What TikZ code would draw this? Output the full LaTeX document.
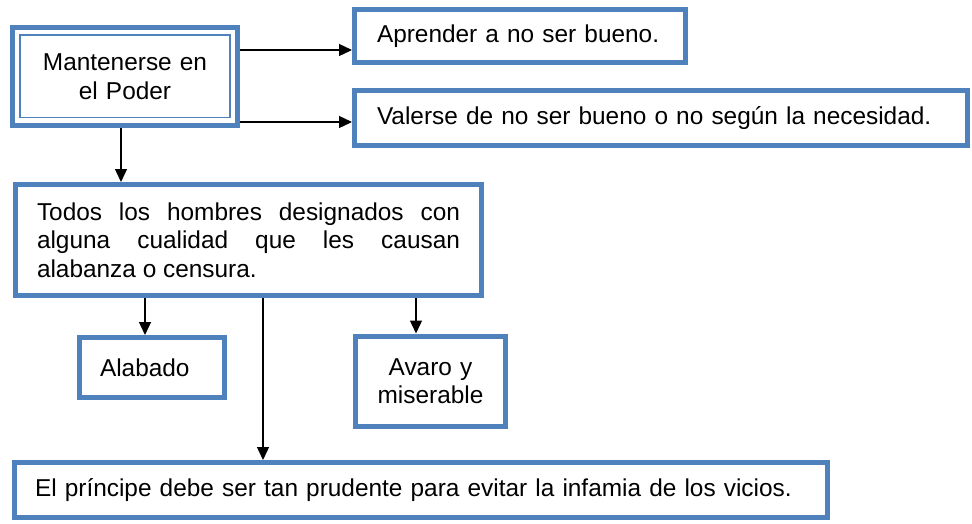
\documentclass[tikz,border=0pt]{standalone}
\usepackage{fontspec}
\setmainfont{Liberation Sans}
\usetikzlibrary{arrows.meta}
\definecolor{boxblue}{RGB}{79,129,189}
\begin{document}
\begin{tikzpicture}[x=1pt,y=-1pt,
  box/.style={draw=boxblue, line width=5pt, rectangle, inner ysep=0pt,
    font=\fontsize{24.4}{28.5}\selectfont},
  thinbox/.style={draw=boxblue, line width=1.6pt, rectangle, inner sep=0pt},
  arr/.style={line width=1.3pt, -{Triangle[length=13pt,width=12pt]}}]
\useasboundingbox (0,0) rectangle (972,523);

% boxes
\node[box, minimum width=225pt, minimum height=98pt, text width=200pt, inner xsep=12.5pt, align=center] (m) at (125,76.5) {Mantenerse en\\el Poder};
\node[thinbox, minimum width=210pt, minimum height=82.5pt] (mi) at (125,76.25) {};
\node[box, minimum width=331pt, minimum height=53pt, text width=311pt, inner xsep=10pt, align=left] (a) at (520,36) {\hspace*{12.5pt}Aprender a no ser bueno.};
\node[box, minimum width=613pt, minimum height=55pt, text width=593pt, inner xsep=10pt, align=left] (v) at (661,118) {\hspace*{12.5pt}Valerse de no ser bueno o no según la necesidad.};
\node[box, minimum width=466pt, minimum height=111pt, text width=423pt, inner xsep=21.5pt, align=justify] (t) at (248.5,240) {Todos los hombres designados con\linebreak alguna cualidad que les causan\linebreak alabanza o censura.};
\node[box, minimum width=145pt, minimum height=60pt, text width=104pt, inner xsep=20.5pt, align=left] (al) at (152,367.5) {Alabado};
\node[box, minimum width=150pt, minimum height=90pt, text width=130pt, inner xsep=10pt, align=center] (av) at (430.5,381) {Avaro y\\miserable};
\node[box, minimum width=813pt, minimum height=55pt, text width=793pt, inner xsep=10pt, align=left] (p) at (421,490) {\hspace*{10.5pt}El príncipe debe ser tan prudente para evitar la infamia de los vicios.};

% helper coordinates
\coordinate (y1) at (0,50);
\coordinate (y2) at (0,122);
\coordinate (x1) at (121,0);
\coordinate (x2) at (145,0);
\coordinate (x3) at (416,0);
\coordinate (x4) at (263,0);

% connectors
\draw[arr] (m.east |- y1) -- (a.west |- y1);
\draw[arr] (m.east |- y2) -- (v.west |- y2);
\draw[arr] (m.south -| x1) -- (t.north -| x1);
\draw[arr] (t.south -| x2) -- (al.north -| x2);
\draw[arr] (t.south -| x3) -- (av.north -| x3);
\draw[arr] (t.south -| x4) -- (p.north -| x4);
\end{tikzpicture}
\end{document}
